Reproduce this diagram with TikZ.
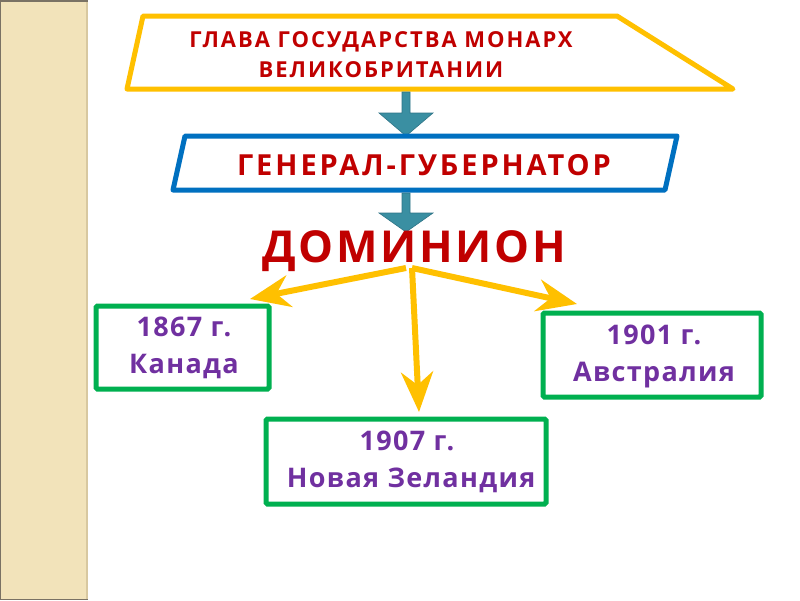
\documentclass[tikz,border=0pt]{standalone}
\usepackage{fontspec}
\setmainfont{Open Sans}
\usetikzlibrary{arrows.meta}
\definecolor{beige}{HTML}{F2E3BA}
\definecolor{beigeedge}{HTML}{D8C8A0}
\definecolor{stripedark}{HTML}{7A7264}
\definecolor{ygold}{HTML}{FFC000}
\definecolor{bblue}{HTML}{0070C0}
\definecolor{dred}{HTML}{C00000}
\definecolor{teal}{HTML}{3A8FA2}
\definecolor{tealdark}{HTML}{2E7486}
\definecolor{ggreen}{HTML}{00B050}
\definecolor{purp}{HTML}{7030A0}
\tikzset{
  frame/.style={line width=5pt, line join=round, fill=white},
  headtext/.style={text=dred, align=center, inner sep=0pt},
  boxtext/.style={text=purp, font=\bfseries\fontsize{27}{37}\selectfont\addfontfeature{LetterSpace=5}, align=center, inner sep=0pt},
  greenbox/.style={draw=ggreen, line width=5pt, rounded corners=1.5pt, fill=white},
  yarrow/.style={draw=ygold, line width=6pt, -{Stealth[length=40pt, width=32pt, inset=13pt]}},
  blockarrow/.style={fill=teal, draw=tealdark, line width=0.6pt}
}
\begin{document}
\begin{tikzpicture}[x=1pt,y=-1pt]
\useasboundingbox (0,0) rectangle (800,600);
\fill[white] (0,0) rectangle (800,600);
% left stripe
\fill[beige] (0,0) rectangle (88,600);
\draw[beigeedge, line width=2pt] (87,0) -- (87,600);
\draw[stripedark, line width=2pt] (0,0) -- (0,600);
\draw[stripedark, line width=1.5pt] (0,0.75) -- (88,0.75);
\draw[stripedark, line width=1.5pt] (0,599.25) -- (88,599.25);

% top trapezoid
\draw[frame, draw=ygold] (143,16) -- (617,16) -- (733,89) -- (127,89) -- cycle;
\node[headtext, font=\bfseries\fontsize{22}{30}\selectfont\addfontfeature{LetterSpace=9}] (head) at (381,55) {ГЛАВА ГОСУДАРСТВА МОНАРХ\\ВЕЛИКОБРИТАНИИ};

% block arrow 1
\filldraw[blockarrow] (402,92) -- (410,92) -- (410,113) -- (433,113) -- (406,136) -- (379,113) -- (402,113) -- cycle;

% blue parallelogram
\draw[frame, draw=bblue] (185,136) -- (677,136) -- (665,190) -- (173,190) -- cycle;
\node[headtext, font=\bfseries\fontsize{29}{34}\selectfont\addfontfeature{LetterSpace=10}] (gg) at (424,165) {ГЕНЕРАЛ-ГУБЕРНАТОР};

% block arrow 2
\filldraw[blockarrow] (402,193) -- (410,193) -- (410,213) -- (433,213) -- (406,232) -- (379,213) -- (402,213) -- cycle;

% dominion
\node[headtext, font=\bfseries\fontsize{44}{50}\selectfont\addfontfeature{LetterSpace=6}] (dom) at (414,251) {ДОМИНИОН};

% green boxes
\draw[greenbox] (96,306) rectangle (269,389);
\node[boxtext] (can) at (184,348) {1867 г.\\Канада};
\draw[greenbox] (543,313) rectangle (761,397);
\node[boxtext] (aus) at (654,356) {1901 г.\\Австралия};
\draw[greenbox] (266,419) rectangle (546,504);
\node[boxtext] (nz) at (407,462) {1907 г.\\\ Новая Зеландия};

% yellow arrows
\coordinate (hubL) at (406,268);
\coordinate (hubR) at (412,268);
\coordinate (tipL) at (250,299);
\coordinate (tipR) at (577,304);
\coordinate (tipD) at (419,412);
\draw[yarrow] (hubL) -- (tipL);
\draw[yarrow] (hubR) -- (tipR);
\draw[yarrow] (hubR) -- (tipD);
\end{tikzpicture}
\end{document}
